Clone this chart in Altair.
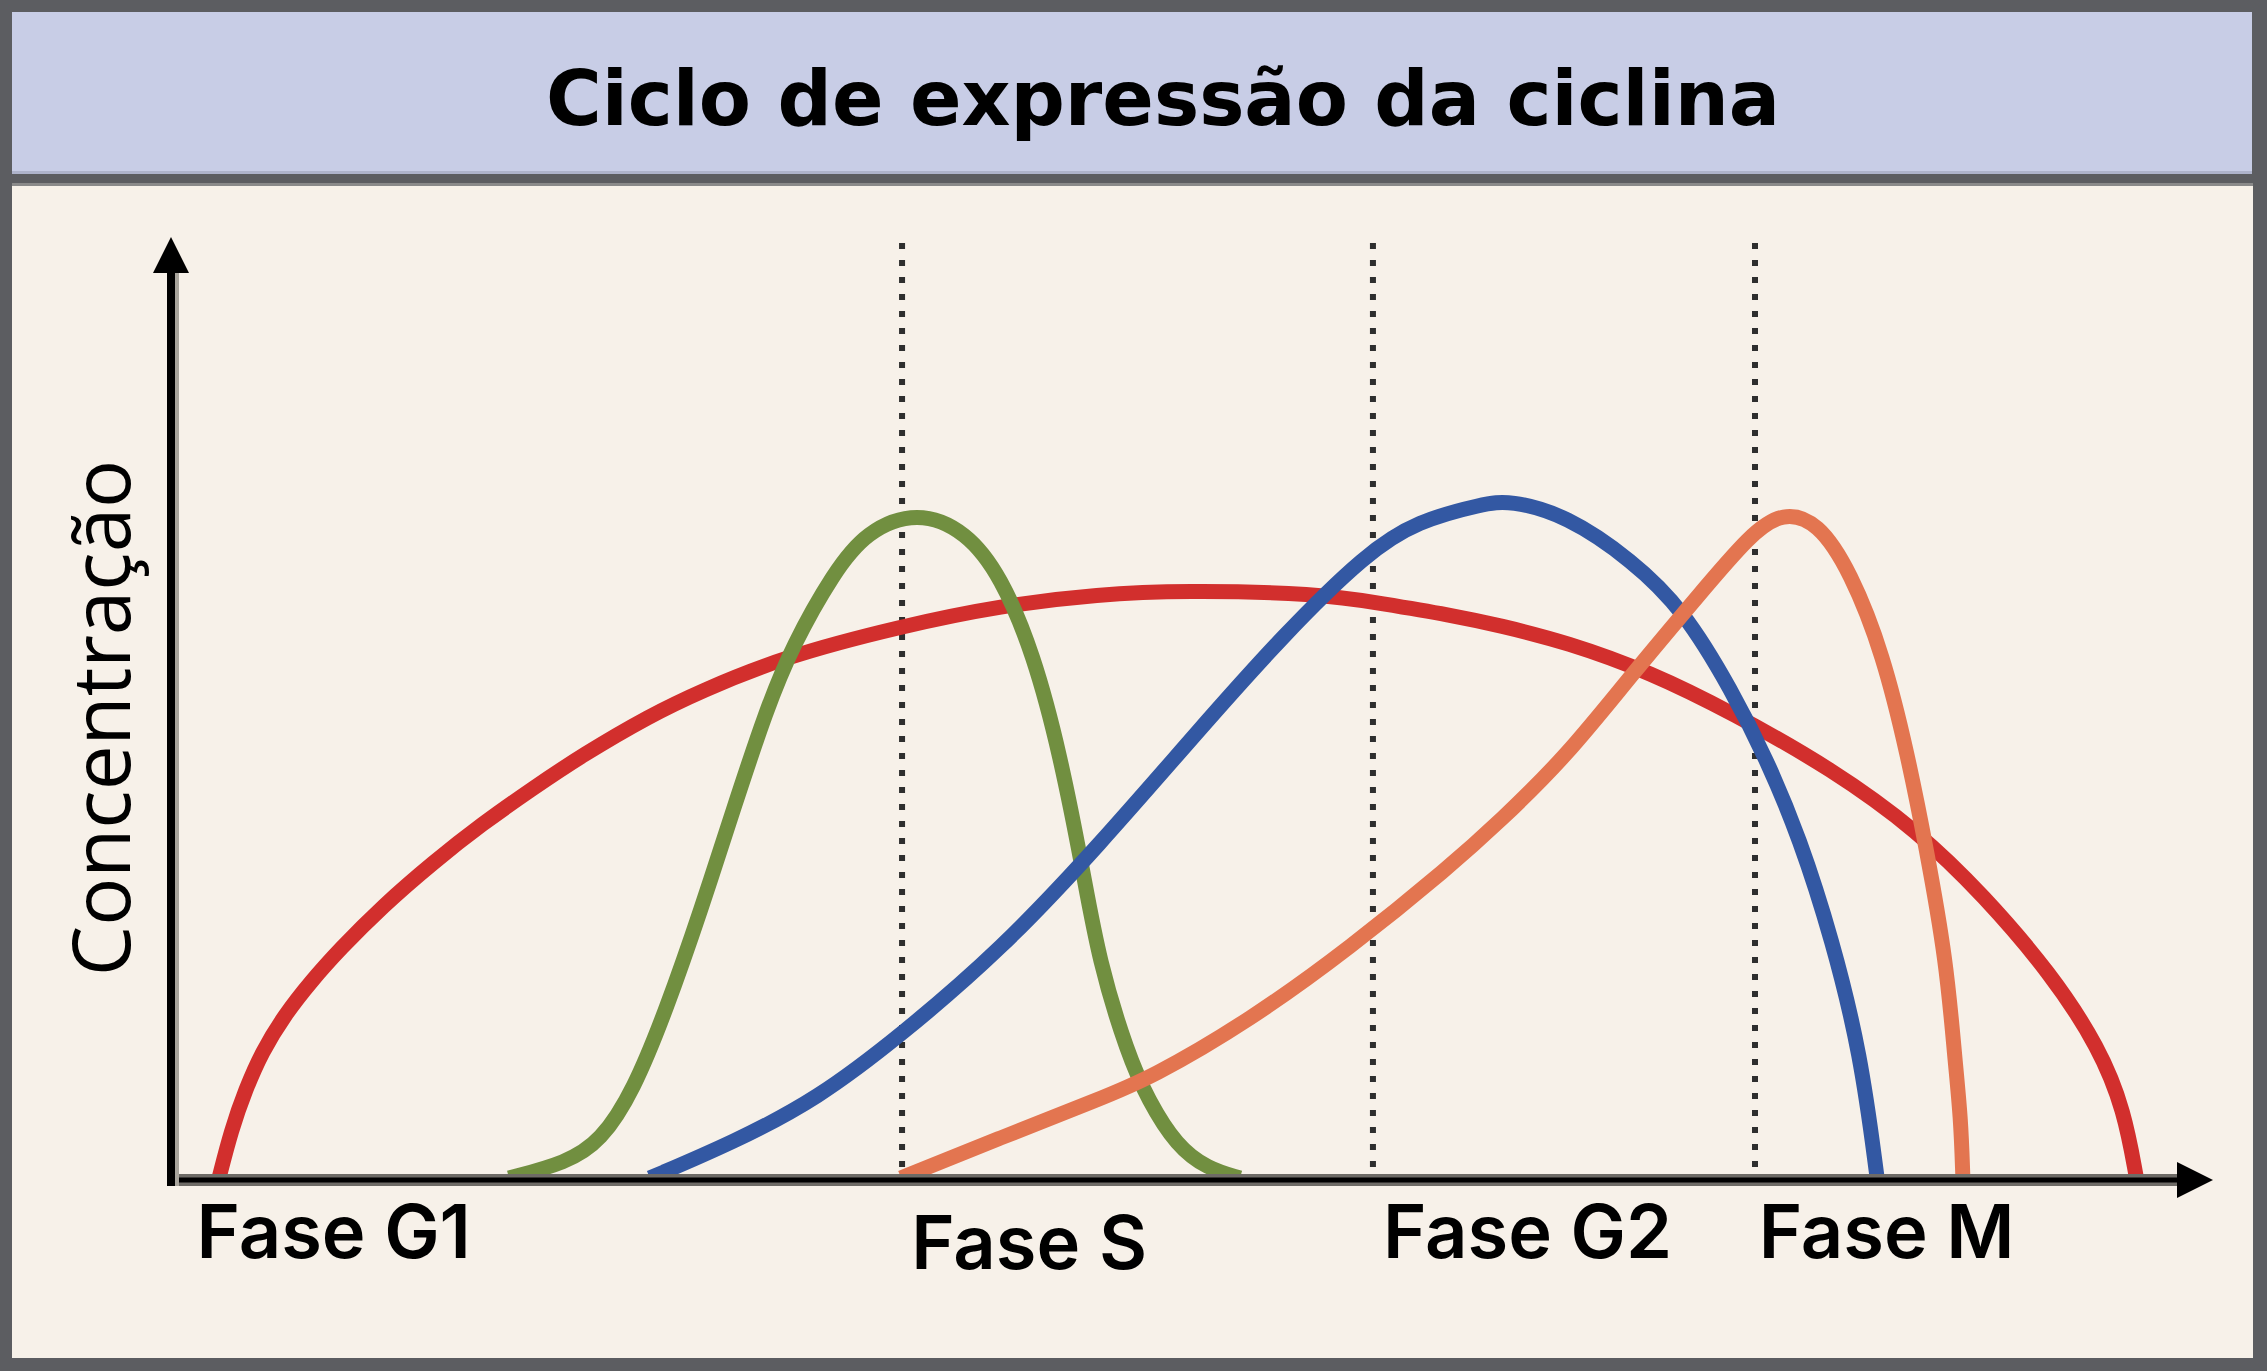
import altair as alt
import pandas as pd

# ---- data -----------------------------------------------------------------
# t: time along the drawn x axis (0 = y axis, 100 = arrow tip)
# c: concentration along the drawn y axis (0 = x axis, 100 = arrow tip)
title_text = "Ciclo de expressão da ciclina"
y_title = "Concentração"

red_t = [2.4, 3.0, 3.7, 4.5, 5.6, 6.9, 8.3, 10.4, 12.9, 15.3, 17.8, 20.2, 23.5, 26.0, 30.0, 35.8,
         40.7, 45.5, 49.6, 56.2, 59.4, 62.7, 65.1, 68.4, 72.5, 76.5, 81.4, 85.6, 88.8, 92.1,
         94.5, 95.7, 96.3]
red_c = [0.0, 5.1, 9.4, 13.4, 17.3, 20.9, 24.3, 28.9, 33.6, 37.7, 41.5, 45.0, 49.2, 51.8, 55.4,
         58.7, 60.9, 62.1, 62.5, 62.2, 61.1, 59.9, 58.8, 57.0, 53.8, 49.5, 43.5, 36.9, 30.1,
         21.8, 13.8, 7.2, 0.0]

green_t = [16.6, 19.4, 21.1, 22.7, 24.3, 26.0, 27.6, 29.2, 30.5, 32.5, 34.1, 36.6, 39.0, 40.7,
           42.3, 43.6, 44.7, 45.5, 46.9, 47.9, 49.3, 50.8, 52.4]
green_c = [0.0, 1.6, 3.9, 9.3, 17.9, 28.5, 39.3, 49.8, 56.7, 64.4, 68.8, 71.0, 68.8, 64.0,
           55.7, 45.0, 32.8, 23.0, 13.2, 8.3, 3.4, 1.0, 0.0]

blue_t = [23.5, 27.6, 31.7, 35.8, 40.7, 45.5, 50.4, 54.5, 58.6, 61.1, 64.3, 65.6, 68.4, 71.6,
          74.1, 76.5, 78.2, 79.8, 81.4, 82.8, 83.6]
blue_c = [0.0, 3.8, 8.4, 15.2, 24.3, 35.4, 47.7, 57.7, 66.5, 69.9, 71.7, 72.1, 70.5, 65.7,
          60.5, 51.8, 44.5, 36.2, 25.4, 13.2, 0.0]

orange_t = [35.8, 40.7, 45.5, 48.0, 52.9, 57.8, 62.7, 65.1, 68.4, 71.6, 74.9, 77.4, 79.0, 80.7,
            82.3, 83.9, 85.1, 86.0, 87.0, 87.4, 87.7, 87.8]
orange_c = [0.0, 4.3, 8.4, 10.6, 16.8, 24.5, 33.2, 37.9, 44.9, 53.6, 62.1, 68.5, 70.9, 69.8,
            64.5, 55.7, 45.0, 35.2, 23.0, 12.8, 6.4, 0.0]

phase_bounds = [35.85, 58.91, 77.62]
phase_labels = ["Fase G1", "Fase S", "Fase G2", "Fase M"]
label_t = [1.3, 36.3, 59.4, 77.8]

# ---- styling ---------------------------------------------------------------
W, H = 2042, 940
XS = alt.Scale(domain=[0, 100], nice=False, zero=False)
YS = alt.Scale(domain=[0, 100], nice=False, zero=False)
one = alt.Data(values=[{"k": 1}])


def rect(x, x2, y, y2, color):
    return alt.Chart(one).mark_rect(color=color).encode(
        x=alt.value(x), x2=alt.value(x2), y=alt.value(y), y2=alt.value(y2))


def rule(x, x2, y, y2, color, width):
    return alt.Chart(one).mark_rule(color=color, strokeWidth=width, strokeCap="butt").encode(
        x=alt.value(x), x2=alt.value(x2), y=alt.value(y), y2=alt.value(y2))


def curve(ts, cs, color):
    df = pd.DataFrame({"t": ts, "c": cs})
    return alt.Chart(df).mark_line(color=color, strokeWidth=15, interpolate="basis",
                                   strokeCap="butt").encode(
        x=alt.X("t:Q", scale=XS, axis=None),
        y=alt.Y("c:Q", scale=YS, axis=None),
    )


panel = rect(-158, 2083, -52, 1120, "#f7f1e9")
band = rect(-158, 2082, -226, -66, "#c8cde6")
band_edge = rect(-158, 2082, -67, -64, "#aeb3cb")
grey_edge = rect(-158, 2083, -55, -52, "#8a8a8a")

title = alt.Chart(one).mark_text(
    text=title_text, font="DejaVu Sans", fontWeight="bold", fontSize=76,
    align="center", baseline="alphabetic", color="black"
).encode(x=alt.value(993), y=alt.value(-113))

ytitle = alt.Chart(one).mark_text(
    text=y_title, font="Open Sans", fontSize=80, angle=270,
    align="center", baseline="alphabetic", color="black"
).encode(x=alt.value(-40), y=alt.value(480))

bounds_df = pd.DataFrame({"t": phase_bounds})
dotted = alt.Chart(bounds_df).mark_rule(
    color="#2e2e2e", strokeWidth=6, strokeDash=[6, 11]
).encode(x=alt.X("t:Q", scale=XS, axis=None), y=alt.value(5), y2=alt.value(940))

red = curve(red_t, red_c, "#d22f2d")
green = curve(green_t, green_c, "#718f40")
blue = curve(blue_t, blue_c, "#3358a3")
orange = curve(orange_t, orange_c, "#e37550")

x_axis_band = rule(-3, 2010, 942, 942, "#6e6b66", 12)
x_axis_line = rule(-3, 2010, 942, 942, "black", 5)
y_axis_shadow = rule(7, 7, 35, 948, "#a8a49c", 4)
y_axis_line = rule(1, 1, 30, 948, "black", 8)

arrow_up = alt.Chart(one).mark_point(
    shape="M-1,1L0,-1L1,1Z", filled=True, color="black", size=1296, opacity=1
).encode(x=alt.value(1), y=alt.value(17))
arrow_right = alt.Chart(one).mark_point(
    shape="M-1,-1L1,0L-1,1Z", filled=True, color="black", size=1296, opacity=1
).encode(x=alt.value(2025), y=alt.value(942))

labels_df = pd.DataFrame({"t": label_t, "label": phase_labels})
lab_base = alt.Chart(labels_df).mark_text(
    font="Inter", fontSize=74, fontWeight=600, align="left", baseline="alphabetic",
    color="black")
labels = lab_base.transform_filter(alt.datum.label != "Fase S").encode(
    x=alt.X("t:Q", scale=XS, axis=None), y=alt.value(1020), text="label:N")
label_s = lab_base.transform_filter(alt.datum.label == "Fase S").encode(
    x=alt.X("t:Q", scale=XS, axis=None), y=alt.value(1031), text="label:N")

chart = alt.layer(
    panel, band, band_edge, grey_edge, title, ytitle, dotted,
    red, green, blue, orange,
    x_axis_band, x_axis_line, y_axis_shadow, y_axis_line, arrow_up, arrow_right,
    labels, label_s,
).properties(
    width=W, height=H,
    padding={"left": 170, "top": 238, "right": 55, "bottom": 193},
    autosize="none",
    background="#5c5d61",
).configure_view(stroke=None)

chart.save("out.html", embed_options={"renderer": "svg", "actions": False})
